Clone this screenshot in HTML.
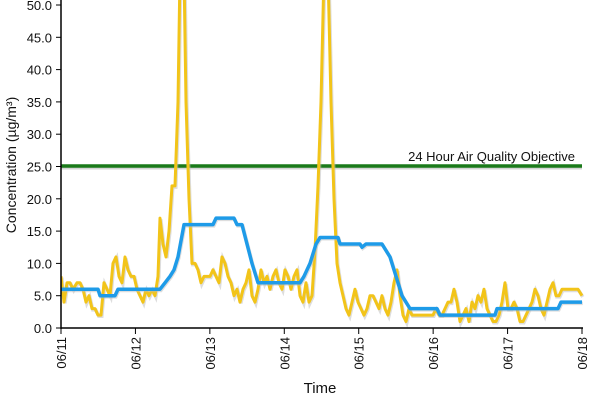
<!DOCTYPE html>
<html><head><meta charset="utf-8"><style>
html,body{margin:0;padding:0;background:#fff;width:600px;height:400px;overflow:hidden}
svg text{font-family:"Liberation Sans",sans-serif;fill:#111}
</style></head><body>
<svg id="s" width="600" height="400" xmlns="http://www.w3.org/2000/svg">
<defs><clipPath id="c"><rect x="61" y="0" width="525" height="330"/></clipPath></defs>
<g id="grid"></g>
<line x1="61" y1="166" x2="582" y2="166" stroke="#aaa" stroke-width="4" opacity="0.5" transform="translate(0,1.5)"/>
<line x1="61" y1="166" x2="582" y2="166" stroke="#1a7a1a" stroke-width="3.5"/>
<text x="575" y="161" font-size="13" text-anchor="end">24 Hour Air Quality Objective</text>
<g clip-path="url(#c)">
<polyline id="ys" fill="none" stroke="#bbb" stroke-width="3.5" opacity="0.5" transform="translate(0.8,1.2)"/>
<polyline id="y" fill="none" stroke="#f2c419" stroke-width="3" stroke-linejoin="round"/>
<polyline id="bs" fill="none" stroke="#bbb" stroke-width="3.5" opacity="0.5" transform="translate(0.8,1.2)"/>
<polyline id="b" fill="none" stroke="#1e9be8" stroke-width="3.5" stroke-linejoin="round"/>
</g>
<line x1="61" y1="0" x2="61" y2="329" stroke="#000" stroke-width="1.5"/>
<line x1="61" y1="328" x2="583" y2="328" stroke="#000" stroke-width="1.5"/>
<g id="ax"></g>
<text transform="translate(16,165) rotate(-90)" font-size="14" text-anchor="middle">Concentration (µg/m³)</text>
<text x="320" y="393" font-size="15" text-anchor="middle">Time</text>
</svg>
<script>
var Y=function(v){return 328-v*6.46};
var ax=document.getElementById('ax'),h='';
for(var v=0;v<=50;v+=5){var y=Y(v);h+='<line x1="56" x2="61" y1="'+y+'" y2="'+y+'" stroke="#000"/><text x="52" y="'+(y+5)+'" font-size="13" text-anchor="end">'+v.toFixed(1)+'</text>';}
var d=['06/11','06/12','06/13','06/14','06/15','06/16','06/17','06/18'];
for(var i=0;i<8;i++){var x=61+i*74.43;h+='<line x1="'+x+'" x2="'+x+'" y1="328" y2="334" stroke="#000"/><text transform="translate('+(x+5)+',337) rotate(-90)" font-size="13" text-anchor="end">'+d[i]+'</text>';}
ax.innerHTML=h;
var yv=[61,8,64,4,67,7,70,7,73,6,77,7,80,7,83,6,86,4,89,5,92,3,95,3,98,2,101,2,104,7,107,6,110,5,113,10,116,11,119,8,122,7,125,11,128,9,131,8,134,8,137,6,140,5,143,4,146,6,149,5,152,6,155,5,158,8,160,17,163,13,166,11,169,15,172,22,175,22,178,35,180,55,184,55,186,35,189,20,192,10,195,10,198,9,201,7,204,8,207,8,210,8,213,9,216,8,219,7,222,11,225,10,228,8,231,7,234,5,237,6,240,4,243,6,246,7,249,9,252,5,255,4,258,6,261,9,264,7,267,8,270,6,273,8,276,9,279,7,282,6,285,9,288,8,291,6,294,8,297,9,300,5,303,4,306,7,309,4,312,5,315,12,318,22,321,35,324,55,328,55,331,35,334,20,337,10,340,7,343,5,346,3,349,2,352,4,355,6,358,4,361,3,364,2,367,3,370,5,373,5,376,4,379,3,382,5,385,3,388,2,391,4,394,7,397,9,400,5,403,2,406,1,409,3,412,2,415,2,418,2,421,2,424,2,427,2,430,2,433,2,436,3,439,2,442,2,445,3,448,4,451,4,454,6,457,4,460,1,463,2,466,3,469,1,472,4,475,3,478,5,481,4,484,6,487,3,490,2,493,1,496,1,499,2,502,4,505,7,508,3,511,3,514,4,517,3,520,1,523,1,526,2,529,3,532,4,535,6,538,5,541,3,544,2,547,4,550,6,553,7,556,5,559,5,562,6,565,6,568,6,571,6,574,6,578,6,582,5];
var bv=[61,6,98,6,100,5,115,5,118,6,160,6,165,7,170,8,174,9,178,11,184,16,213,16,216,17,234,17,237,16,242,16,247,13,252,10,258,7,300,7,304,8,310,10,316,13,320,14,338,14,340,13,360,13,362,12.5,366,13,382,13,390,11,396,8,402,5,406,4,410,3,437,3,440,2,495,2,497,3,558,3,561,4,582,4];
function pts(a){var s='';for(var i=0;i<a.length;i+=2)s+=a[i]+','+Y(a[i+1])+' ';return s;}
['y','ys'].forEach(function(id){document.getElementById(id).setAttribute('points',pts(yv))});
['b','bs'].forEach(function(id){document.getElementById(id).setAttribute('points',pts(bv))});
</script>
</body></html>
